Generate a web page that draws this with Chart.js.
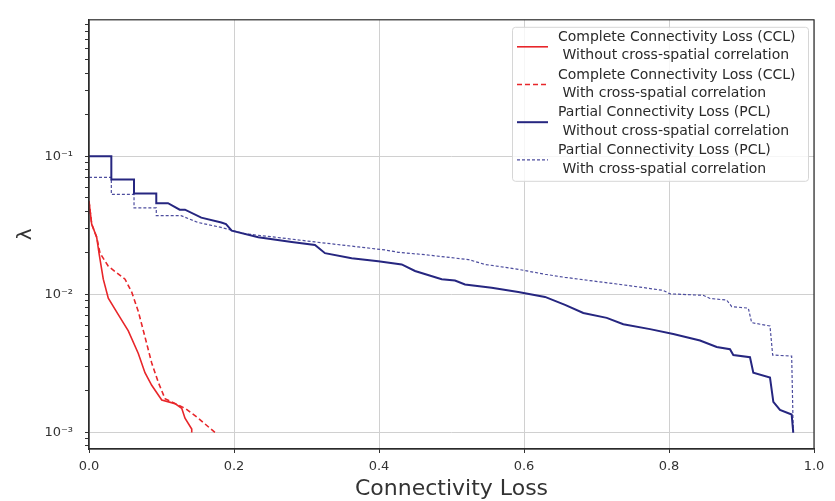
<!DOCTYPE html>
<html>
<head>
<meta charset="utf-8">
<script src="https://cdn.jsdelivr.net/npm/chart.js@4.4.1/dist/chart.umd.min.js"></script>
<style>
  html, body { margin: 0; padding: 0; background: #fff; }
  #wrap { width: 835px; height: 501px; position: relative; }
</style>
</head>
<body>
<div id="wrap"><canvas id="myChart" width="835" height="501"></canvas></div>
<script>
// --- data ---
var cclWithoutX = [0.0, 0.0037, 0.0106, 0.0138, 0.0197, 0.0266, 0.0404, 0.0542, 0.068, 0.0772, 0.0865, 0.1003, 0.1186, 0.1279, 0.1324, 0.1417, 0.1417];
var cclWithoutY = [0.0473, 0.0323, 0.026, 0.0199, 0.0129, 0.0094, 0.00714, 0.00545, 0.00374, 0.00271, 0.0022, 0.00172, 0.00162, 0.0015, 0.00127, 0.00106, 0.001];

var cclWithX = [0.0, 0.0037, 0.0106, 0.0152, 0.0266, 0.0497, 0.0589, 0.068, 0.0772, 0.0865, 0.0956, 0.1048, 0.1186, 0.1324, 0.1508, 0.1738];
var cclWithY = [0.0473, 0.0323, 0.026, 0.0199, 0.016, 0.0129, 0.0104, 0.00754, 0.00493, 0.00319, 0.00231, 0.00176, 0.00162, 0.0015, 0.00127, 0.001];

// step corners are listed twice (same x) where the curve drops vertically
var pclWithoutX = [0, 0.0308, 0.0308, 0.0621, 0.0621, 0.0928, 0.0928, 0.109, 0.1251, 0.1324,
                   0.1549, 0.1825, 0.189, 0.1968, 0.2335, 0.2796, 0.3117, 0.3255, 0.3623, 0.399,
                   0.4313, 0.4497, 0.4865, 0.5048, 0.5186, 0.5554, 0.5921, 0.629, 0.6566, 0.6818,
                   0.7141, 0.737, 0.7738, 0.8059, 0.8428, 0.8658, 0.8841, 0.8887, 0.9117, 0.9163,
                   0.9393, 0.9439, 0.9531, 0.9692, 0.9714];
var pclWithoutY = [0.1, 0.1, 0.0679, 0.0679, 0.0538, 0.0538, 0.0458, 0.0458, 0.0411, 0.0411,
                   0.036, 0.0332, 0.0323, 0.029, 0.026, 0.024, 0.0228, 0.0199, 0.0183, 0.0174,
                   0.0165, 0.0148, 0.0129, 0.0126, 0.0118, 0.0112, 0.0104, 0.0096, 0.0084, 0.00734,
                   0.00677, 0.00608, 0.00561, 0.00517, 0.00464, 0.00417, 0.00401, 0.00364, 0.00351, 0.00271,
                   0.0025, 0.00167, 0.00146, 0.00135, 0.001];

var pclWithX = [0, 0.0308, 0.0308, 0.0621, 0.0621, 0.0928, 0.0928, 0.1269, 0.1503, 0.1821,
                0.1986, 0.2152, 0.2566, 0.3117, 0.3714, 0.4083, 0.4266, 0.4634, 0.5232, 0.5462,
                0.5921, 0.629, 0.6566, 0.691, 0.7279, 0.76, 0.7921, 0.8014, 0.8473, 0.8566,
                0.8796, 0.8865, 0.9094, 0.914, 0.9393, 0.943, 0.9692, 0.9714];
var pclWithY = [0.0705, 0.0705, 0.053, 0.053, 0.0423, 0.0423, 0.0372, 0.0372, 0.0332, 0.0306,
                0.029, 0.0275, 0.026, 0.024, 0.0221, 0.021, 0.0202, 0.0194, 0.0179, 0.0165,
                0.0152, 0.014, 0.0133, 0.0126, 0.0119, 0.0113, 0.0107, 0.0101, 0.00986, 0.00935,
                0.0091, 0.00817, 0.00796, 0.00625, 0.00591, 0.00364, 0.00358, 0.001];

var seriesLabels = [
  "Complete Connectivity Loss (CCL)\n Without cross-spatial correlation",
  "Complete Connectivity Loss (CCL)\n With cross-spatial correlation",
  "Partial Connectivity Loss (PCL)\n Without cross-spatial correlation",
  "Partial Connectivity Loss (PCL)\n With cross-spatial correlation"
];
var xTicks = [0, 0.2, 0.4, 0.6, 0.8, 1.0];
var yMin = 0.00076, yMax = 0.975;
var supers = {"-": "\u207B", "0": "\u2070", "1": "\u00B9", "2": "\u00B2", "3": "\u00B3", "4": "\u2074"};

function pts(xs, ys) {
  var out = [];
  for (var i = 0; i < xs.length; i++) out.push({x: xs[i], y: ys[i]});
  return out;
}
function isDecade(v) {
  var l = Math.log10(v);
  return Math.abs(l - Math.round(l)) < 1e-6;
}

const FONT = "'DejaVu Sans', sans-serif";

// matplotlib-like box around the axes + legend with two-line labels
const frameAndLegend = {
  id: 'frameAndLegend',
  afterDatasetsDraw(chart) {
    const ctx = chart.ctx, a = chart.chartArea;
    ctx.save();
    // legend
    const w = 296, h = 154;
    const x = a.right - w - 6, y = a.top + 7;
    ctx.fillStyle = 'rgba(255,255,255,0.8)';
    ctx.strokeStyle = '#d6d6d6';
    ctx.lineWidth = 1;
    ctx.beginPath();
    ctx.roundRect(x + 0.5, y + 0.5, w, h, 3);
    ctx.fill();
    ctx.stroke();
    chart.data.datasets.forEach(function(ds, i) {
      const cy = y + 20 + i * 37.7;
      ctx.strokeStyle = ds.borderColor;
      ctx.lineWidth = ds.borderWidth;
      ctx.setLineDash(ds.borderDash || []);
      ctx.beginPath();
      ctx.moveTo(x + 5, cy);
      ctx.lineTo(x + 36, cy);
      ctx.stroke();
      ctx.setLineDash([]);
      ctx.fillStyle = '#2a2a2a';
      ctx.font = '14px ' + FONT;
      ctx.textBaseline = 'middle';
      ctx.textAlign = 'left';
      const lines = ds.label.split('\n');
      ctx.fillText(lines[0], x + 46, cy - 9.5);
      ctx.fillText(lines[1], x + 46, cy + 9);
    });
    // spines
    ctx.strokeStyle = '#2b2b2b';
    ctx.lineWidth = 1.2;
    ctx.strokeRect(a.left, a.top, a.right - a.left, a.bottom - a.top);
    ctx.restore();
  }
};

const ctx = document.getElementById("myChart");
new Chart(ctx, {
  type: 'line',
  data: {
    datasets: [
      {
        label: seriesLabels[0],
        data: pts(cclWithoutX, cclWithoutY),
        borderColor: '#e8262a',
        borderWidth: 1.6,
        pointRadius: 0,
        tension: 0
      },
      {
        label: seriesLabels[1],
        data: pts(cclWithX, cclWithY),
        borderColor: '#e8262a',
        borderWidth: 1.6,
        borderDash: [5, 3],
        pointRadius: 0,
        tension: 0
      },
      {
        label: seriesLabels[2],
        data: pts(pclWithoutX, pclWithoutY),
        borderColor: '#262680',
        borderWidth: 2,
        pointRadius: 0,
        tension: 0
      },
      {
        label: seriesLabels[3],
        data: pts(pclWithX, pclWithY),
        borderColor: '#4d4d9e',
        borderWidth: 1.2,
        borderDash: [3, 2],
        pointRadius: 0,
        tension: 0
      }
    ]
  },
  options: {
    responsive: false,
    animation: false,
    events: [],
    layout: { padding: { top: 6, right: 21, left: 0, bottom: 0 } },
    plugins: {
      legend: { display: false },
      tooltip: { enabled: false }
    },
    scales: {
      x: {
        type: 'linear',
        min: 0,
        max: 1,
        afterBuildTicks: function(scale) {
          scale.ticks = xTicks.map(function(v) { return {value: v}; });
        },
        afterFit: function(scale) { scale.height = 52; },
        ticks: {
          autoSkip: false,
          maxRotation: 0,
          padding: 6,
          color: '#333',
          font: { family: FONT, size: 13 },
          callback: function(v) { return Number(v).toFixed(1); }
        },
        grid: {
          color: '#d0d0d0',
          lineWidth: 1,
          tickColor: '#333',
          tickLength: 4
        },
        border: { color: '#2b2b2b', width: 1.2 },
        title: {
          display: true,
          text: 'Connectivity Loss',
          color: '#333',
          font: { family: FONT, size: 22 },
          padding: { top: 0, bottom: -1 }
        }
      },
      y: {
        type: 'logarithmic',
        min: yMin,
        max: yMax,
        afterBuildTicks: function(scale) {
          var t = [];
          for (var e = -4; e <= 0; e++) {
            for (var k = 1; k <= 9; k++) {
              var v = k * Math.pow(10, e);
              if (v >= yMin && v <= yMax) t.push({value: v});
            }
          }
          scale.ticks = t;
        },
        afterFit: function(scale) { scale.width = 89; },
        ticks: {
          autoSkip: false,
          padding: 12,
          color: '#333',
          font: { family: FONT, size: 13 },
          callback: function(v) {
            if (!isDecade(v)) return '';
            var p = String(Math.round(Math.log10(v)));
            return '10' + p.split('').map(function(c) { return supers[c]; }).join('');
          }
        },
        grid: {
          color: function(c) { return (c.tick && isDecade(c.tick.value)) ? '#d0d0d0' : 'rgba(0,0,0,0)'; },
          lineWidth: 1,
          tickColor: '#333',
          tickLength: 4
        },
        border: { color: '#2b2b2b', width: 1.2 },
        title: {
          display: true,
          text: '\u03BB',
          color: '#333',
          font: { family: FONT, size: 20 },
          padding: { top: 14, bottom: 0 }
        }
      }
    }
  },
  plugins: [frameAndLegend]
});
</script>
</body>
</html>
